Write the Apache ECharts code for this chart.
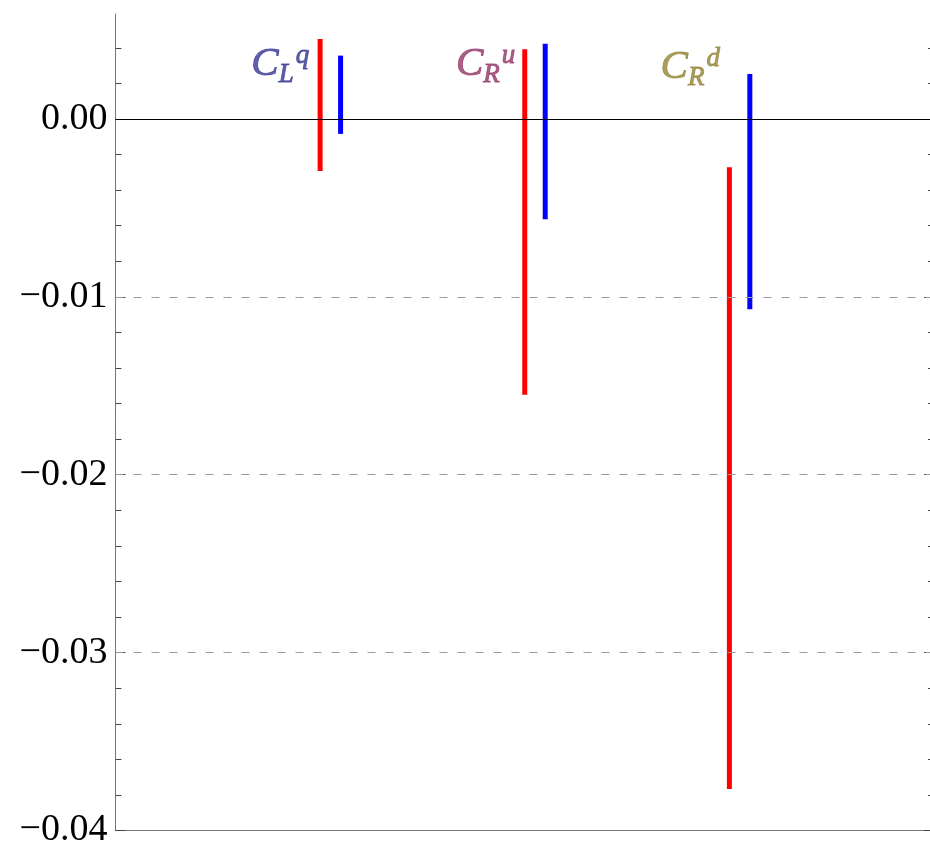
<!DOCTYPE html>
<html>
<head>
<meta charset="utf-8">
<script src="https://cdn.jsdelivr.net/npm/echarts@6/dist/echarts.min.js"></script>
<style>html,body{margin:0;padding:0;background:#fff;}#c{width:930px;height:846px;}</style>
</head>
<body>
<div id="c"></div>
<script>
// ---- data ----
const categories = ['C_L^q', 'C_R^u', 'C_R^d'];
const catPos = [1, 2, 3];
const redLow  = [-0.00292, -0.01551, -0.03767];
const redHigh = [ 0.00450,  0.00392, -0.00271];
const blueLow  = [-0.00084, -0.00564, -0.01070];
const blueHigh = [ 0.00356,  0.00423,  0.00253];
const majorTicks = [-0.04, -0.03, -0.02, -0.01, 0.00];
const majorTickLabels = ['\u22120.04', '\u22120.03', '\u22120.02', '\u22120.01', '0.00'];
const minorTicks = [-0.038, -0.036, -0.034, -0.032, -0.028, -0.026, -0.024, -0.022,
                    -0.018, -0.016, -0.014, -0.012, -0.008, -0.006, -0.004, -0.002, 0.002, 0.004];
const gridValues = [-0.01, -0.02, -0.03];
const labelMain = ['C', 'C', 'C'];
const labelSub = ['L', 'R', 'R'];
const labelSup = ['q', 'u', 'd'];
const labelColors = ['#3a3a96', '#953a6a', '#968638'];

const chart = echarts.init(document.getElementById('c'), null, {renderer: 'canvas'});
const serif = '"Liberation Serif", "DejaVu Serif", serif';

function fmtTick(v) {
  for (let i = 0; i < majorTicks.length; i++) {
    if (Math.abs(majorTicks[i] - v) < 1e-9) return majorTickLabels[i];
  }
  return '';
}

function yAx(position, ticks, len, showLabel, showLine) {
  return {
    type: 'value', min: -0.04, max: 0.0059, position: position,
    axisLine: {show: showLine, lineStyle: {color: '#777', width: 1}},
    axisTick: {show: true, inside: true, length: len, customValues: ticks,
               lineStyle: {color: '#444', width: 1}},
    axisLabel: {show: showLabel, customValues: majorTicks, formatter: fmtTick,
                fontFamily: serif, fontSize: 38, color: '#000', margin: 8},
    splitLine: {show: false}
  };
}

const redData = catPos.map((x, i) => [x, redLow[i], redHigh[i]]);
const blueData = catPos.map((x, i) => [x + 0.1, blueLow[i], blueHigh[i]]);

function barRender(color) {
  return function (params, api) {
    const x = api.value(0), lo = api.value(1), hi = api.value(2);
    const p1 = api.coord([x, hi]);
    const p2 = api.coord([x, lo]);
    return {type: 'rect', shape: {x: p1[0] - 2.5, y: p1[1], width: 5, height: p2[1] - p1[1]},
            style: {fill: color}};
  };
}

const labelData = catPos.map((x, i) => ({
  value: [x - 0.336, 0.00455],
  label: {
    color: labelColors[i],
    textBorderColor: labelColors[i],
    textBorderWidth: 0.9,
    offset: [0, i === 2 ? 3 : 0],
    formatter: '{c|' + labelMain[i] + '}{s|' + labelSub[i] + '}{p|' + labelSup[i] + '}'
  }
}));

chart.setOption({
  animation: false,
  backgroundColor: '#fff',
  grid: {left: 115.5, right: -4, top: 14, bottom: 15.5, containLabel: false, outerBoundsMode: 'none'},
  xAxis: {
    type: 'value', min: 0, max: 4,
    axisLine: {show: true, onZero: false, lineStyle: {color: '#777', width: 1}},
    axisTick: {show: false}, axisLabel: {show: false}, splitLine: {show: false}
  },
  yAxis: [
    yAx('left', majorTicks, 10, true, true),
    yAx('left', minorTicks, 6, false, false),
    yAx('right', majorTicks, 10, false, true),
    yAx('right', minorTicks, 6, false, false)
  ],
  series: [
    {
      type: 'line', data: [], z: 1, silent: true,
      markLine: {
        silent: true, symbol: 'none', label: {show: false},
        lineStyle: {color: '#999', type: [8, 10], width: 1},
        data: gridValues.map(v => ({yAxis: v}))
      }
    },
    {type: 'custom', name: 'red', z: 2, renderItem: barRender('#ff0000'), data: redData,
     encode: {x: 0, y: [1, 2]}},
    {type: 'custom', name: 'blue', z: 2, renderItem: barRender('#0000ff'), data: blueData,
     encode: {x: 0, y: [1, 2]}},
    {
      type: 'line', data: [], z: 3, silent: true,
      markLine: {
        silent: true, symbol: 'none', label: {show: false},
        lineStyle: {color: '#000', type: 'solid', width: 1},
        data: [{yAxis: 0}]
      }
    },
    {
      type: 'scatter', z: 4, symbolSize: 0, silent: true, data: labelData,
      label: {
        show: true, position: [0, 0], align: 'left', verticalAlign: 'top',
        fontFamily: serif, fontStyle: 'italic',
        rich: {
          c: {fontFamily: serif, fontStyle: 'italic', fontSize: 41, verticalAlign: 'top', padding: [6, 0, 0, 0]},
          s: {fontFamily: serif, fontStyle: 'italic', fontSize: 27, verticalAlign: 'top', padding: [23, 0, 0, 0]},
          p: {fontFamily: serif, fontStyle: 'italic', fontSize: 27, verticalAlign: 'top', padding: [4, 0, 0, 2]}
        }
      }
    }
  ]
});
</script>
</body>
</html>
